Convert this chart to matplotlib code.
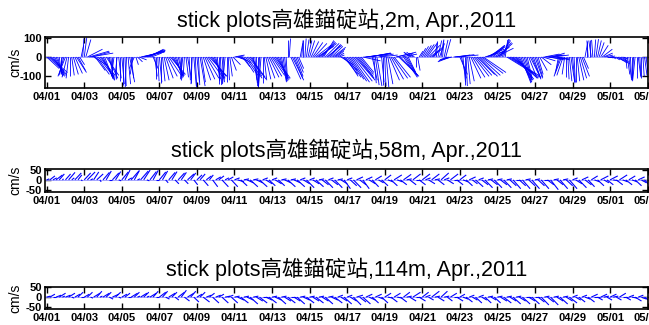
import numpy as np
import matplotlib.pyplot as plt
from matplotlib.collections import LineCollection

plt.rcParams['font.family'] = ['Liberation Sans', 'Noto Sans CJK TC']

tick_days = list(range(0, 33, 2))
tick_labels = ['04/01', '04/03', '04/05', '04/07', '04/09', '04/11', '04/13',
               '04/15', '04/17', '04/19', '04/21', '04/23', '04/25', '04/27',
               '04/29', '05/01', '05/03']

# 2m (cm/s), every 2 hours from 04/01 00:00, one row per day
u_2m = [50, 60, 70, 60, 50, 40, 30, 20, 10, 0, -10, -20,
        -30, -20, -10, 0, 10, 20, 30, 40, 30, 20, 10, 5,
        10, 20, 60, 80, 90, 70, 50, 40, 50, 60, 60, 50,
        40, 30, 50, 40, 20, 10, 0, -10, 0, -10, 10, 0,
        10, 0, 5, -5, 10, 20, 10, -10, -20, 10, 20, 30,
        95, 90, 85, 80, 70, 60, 50, 40, 20, 10, 0, 5,
        10, 0, 10, 20, 30, 40, 50, 60, 50, 40, 30, 20,
        20, 10, 0, -10, -5, 10, 15, 5, 0, -5, 10, 5,
        10, 5, 20, 15, 30, 40, 50, 60, 70, 60, 50, 40,
        20, 10, 0, 5, 10, -5, -10, 0, 5, 10, 20, 30,
        40, 30, 20, 30, 40, 30, 40, 50, 60, 70, 60, 40,
        15, 10, 5, 0, -5, -10, 0, 10, 20, 30, 40, 45,
        50, 55, 60, 50, 40, 30, 20, 15, 10, 5, 0, 5,
        40, 45, 35, 30, 25, 20, 10, 5, 0, 5, 10, 15,
        20, 30, 40, 50, 60, 65, 70, 60, 50, 40, 55, 60,
        50, 40, 45, 50, 40, 30, 25, 20, 50, 60, 55, 50,
        55, 60, 65, 70, 75, 80, 70, 60, 55, 50, 70, 85,
        90, 95, 85, 80, 20, 10, 15, 20, 60, 70, 10, 0,
        5, 10, 20, 40, 50, 60, 65, 70, 75, 80, 70, 60,
        55, 50, 40, 30, -20, -30, -25, -20, 0, 10, 15, 20,
        25, 30, 35, 40, 45, 50, 40, 20, 10, 5, 15, 20,
        10, 5, 15, 20, -30, -40, -50, -45, 50, 60, 70, 80,
        30, 20, 10, 0, 5, 10, 20, 40, 50, 60, 65, 70,
        75, 80, 85, 90, 80, 70, 65, 60, 55, 50, 60, 70,
        60, 50, 40, 30, 20, 10, 100, 110, 120, 110, 100, 90,
        70, 60, 50, 40, 35, 30, 25, 20, 30, 40, 35, 30,
        30, 25, 20, 30, 40, 50, 60, 65, 70, 60, 55, 50,
        60, 55, 50, -10, -20, -30, -25, -10, 0, 5, 10, 15,
        10, 5, 0, 10, 20, 25, 30, 20, 10, 0, -5, 0,
        -10, -5, 5, 10, 15, 20, 30, 40, 35, 30, 25, 20,
        20, 15, 10, 20, 30, 35, 40, 30, 20, 10, 5, 10,
        10, 5, 0, -5, -10, 0, 10, 5, 0, 5, 10, 10]
v_2m = [-60, -70, -80, -90, -95, -100, -95, -100, -90, -85, -90, -95,
        -100, -105, -110, -100, -95, -90, -85, -80, -70, -40, 60, 95,
        100, 90, 40, 30, 20, 25, -40, -70, -90, -100, -95, -105,
        -110, -100, -95, -110, -120, -115, -110, -100, -115, -120, -110, -125,
        -140, -145, -150, -155, -140, -130, -110, -90, -60, -40, -25, -15,
        25, 30, 30, 35, 38, 40, 35, 20, -60, -100, -115, -125,
        -130, -135, -125, -120, -110, -100, -95, -90, -95, -100, -95, -100,
        -105, -110, -120, -115, -100, -105, -110, -120, -135, -140, -150, -155,
        -130, -145, -150, -130, -120, -115, -110, -105, -100, -100, -110, -115,
        -115, -125, -140, -145, -130, -135, -140, -130, -120, -100, -70, -40,
        10, 5, -10, -20, -30, -50, -80, -95, -110, -115, -105, -100,
        -120, -135, -150, -160, -155, -150, -135, -120, -115, -110, -105, -100,
        -95, -100, -110, -115, -120, -125, -130, -125, -115, -110, 85, 95,
        -115, -120, -110, -100, -80, -60, 70, 85, 90, 95, 90, 85,
        85, 80, 75, 70, 60, 55, 70, 75, 80, 85, 70, 60,
        65, 60, 55, 50, 40, 30, 20, 10, -40, -70, -90, -100,
        -105, -115, -125, -130, -125, -120, -110, -100, -90, -80, -20, 10,
        15, 18, 20, 20, -120, -135, -145, -150, 15, 10, -130, -145,
        -150, -155, -140, -120, -115, -110, -105, 20, 25, -100, -95, 15,
        -105, -100, -90, -80, 20, 25, 25, 20, -50, -70, 30, 45,
        55, 60, 65, 70, 60, 50, 40, 30, 75, 80, 85, 70,
        85, 90, 88, 92, -15, -20, -25, -15, 5, 10, 12, 10,
        -90, -110, -130, -145, -150, -140, -125, -110, -105, -100, -95, -90,
        -100, -95, -85, -80, 30, 40, 50, 60, 60, 55, 50, 45,
        70, 75, 85, 90, 92, 88, -80, -90, -100, -105, -110, -110,
        -115, -120, -130, -135, -130, -120, -115, -110, -100, -105, -110, -115,
        -110, -105, -90, -70, -40, -20, 15, 10, -10, -15, 10, 20,
        10, -10, -15, -70, -85, -100, -95, -90, -105, -115, -125, -130,
        -135, -130, -128, -125, -120, -110, -100, -60, 70, 80, 85, 90,
        85, 88, 90, 92, 85, 75, 60, 40, 20, 10, 0, -5,
        5, 0, -10, -15, -20, -30, -35, -25, -10, -30, -60, -90,
        -110, -120, -115, -120, -125, -110, -100, -105, -110, -100, -95, -100]

# 58m, every 4 hours
u_58m = [10, 20, 15, 25, 20, 5,   20, 25, 10, 25, 15, 5,
         25, 30, 10, 20, 25, 5,   25, 20, 10, 25, 20, 10,
         25, 20, 15, 30, 20, 10,  30, 25, 10, 25, 20, 10,
         25, 20, 10, 25, 20, 15,  25, 20, 15, 25, 20, 15,
         20, 20, 20, 20, 15, 20,  20, 20, 25, 15, 20, 25,
         20, 25, 25, 20, 25, 30,  20, 25, 30, 20, 25, 25,
         20, 25, 25, 20, 25, 30,  20, 25, 30, 20, 25, 30,
         20, 25, 30, 20, 25, 30,  20, 25, 30, 20, 25, 25,
         20, 25, 30, 25, 25, 25,  25, 25, 25, 25, 20, 25,
         25, 20, 25, 30, 20, 25,  30, 20, 25, 30, 20, 25,
         30, 20, 25, 30, 20, 25,  30, 20, 25, 30, 20, 25,
         25, 20, 25, 25, 20, 30,  20, 25, 30, 20, 25, 30,
         20, 25, 30, 20, 25, 30,  20, 25, 30, 20, 25, 30,
         20, 25, 30, 20, 25, 30,  20, 25, 30, 20, 25, 30,
         20, 25, 30, 25, 25, 25,  25, 20, 25, 30, 20, 25,
         30, 20, 25, 30, 20, 25,  25, 20, 25, 25, 20, 25]
v_58m = [5, 20, 10, 25, 30, 5,       30, 38, 10, 35, 25, -5,
         35, 40, 5, 40, 30, -10,     38, 45, 0, 35, 42, -5,
         40, 50, 10, 45, 48, 5,      45, 50, -5, 42, 48, 0,
         40, 45, -15, 38, 42, -20,   35, 38, -20, 30, 35, -25,
         25, 30, -30, 20, 25, -35,   15, 20, -35, 10, 15, -35,
         10, -10, -30, 5, -15, -35,  5, -15, -35, 10, -20, -30,
         10, -20, -30, 5, -15, -35,  5, -15, -35, 10, -20, -40,
         10, -20, -35, 5, -25, -40,  10, -25, -40, 5, -20, -45,
         10, -30, -40, 15, -25, -45, 15, -20, -35, 20, -15, -30,
         25, -10, -30, 25, -10, -25, 28, 5, -25, 30, 0, -25,
         30, 10, -20, 30, 5, -25,    35, 10, -20, 30, 0, -25,
         25, -10, -30, 15, -20, -35, 10, -25, -40, 5, -25, -40,
         5, -25, -40, 5, -30, -45,   0, -30, -45, 5, -30, -45,
         5, -30, -45, 0, -25, -50,   5, -25, -45, 5, -30, -45,
         10, -20, -40, 15, -25, -35, 20, -10, -30, 20, -15, -25,
         20, -5, -25, 25, -10, -25,  20, -10, -30, 15, -15, -35]

# 114m, every 4 hours
u_114m = [15, 20, 10, 20, 25, 10,  20, 25, 10, 20, 20, 10,
          20, 20, 10, 25, 20, 10,  25, 20, 15, 25, 20, 10,
          20, 20, 10, 25, 20, 10,  25, 20, 10, 25, 20, 10,
          25, 20, 15, 25, 20, 15,  25, 20, 20, 25, 20, 20,
          20, 20, 25, 20, 20, 25,  20, 20, 25, 20, 20, 25,
          20, 25, 30, 20, 25, 30,  20, 25, 30, 20, 25, 30,
          20, 25, 30, 20, 25, 30,  20, 25, 30, 20, 25, 30,
          20, 25, 30, 20, 25, 30,  20, 25, 30, 20, 25, 30,
          20, 25, 30, 25, 25, 30,  25, 25, 25, 25, 20, 25,
          25, 20, 25, 25, 20, 25,  25, 20, 25, 30, 20, 25,
          25, 20, 20, 30, 20, 25,  25, 20, 20, 25, 20, 25,
          20, 20, 25, 20, 20, 25,  20, 20, 25, 20, 20, 25,
          20, 25, 30, 20, 25, 30,  20, 25, 30, 20, 25, 30,
          20, 25, 30, 20, 25, 30,  20, 25, 30, 20, 25, 30,
          20, 20, 25, 20, 20, 25,  25, 20, 20, 25, 20, 20,
          25, 20, 20, 25, 20, 20,  20, 20, 25, 20, 20, 25]
v_114m = [5, 15, 0, 10, 20, 5,      10, 20, -5, 15, 25, 0,
          15, 25, -5, 20, 30, 5,    20, 25, -10, 15, 25, -5,
          15, 20, 0, 20, 25, 5,     20, 25, 5, 20, 30, 0,
          25, 30, -10, 20, 25, -15, 25, 35, -20, 20, 30, -25,
          15, 25, -25, 10, 20, -30, 10, 15, -30, 5, 10, -30,
          5, -15, -30, 5, -15, -35, 5, -20, -30, 0, -15, -30,
          5, -15, -35, 5, -20, -30, 0, -20, -35, 5, -15, -30,
          5, -20, -30, 5, -20, -35, 5, -15, -30, 10, -20, -35,
          10, -20, -40, 10, -25, -35, 15, -15, -30, 15, -10, -30,
          20, -5, -25, 20, -5, -25,  25, 5, -20, 25, 0, -20,
          25, 10, -15, 30, 5, -20,   30, 5, -20, 20, 0, -20,
          15, -10, -25, 10, -15, -30, 10, -15, -30, 5, -15, -30,
          5, -20, -30, 5, -20, -35,  5, -20, -35, 0, -20, -35,
          0, -25, -40, 5, -25, -40,  5, -20, -35, 5, -20, -30,
          10, -15, -25, 10, -10, -25, 15, 0, -15, 15, 5, -15,
          15, 5, -15, 20, 0, -15,    10, -5, -20, 10, -10, -25]

titles = ['stick plots高雄錨碇站,2m, Apr.,2011',
          'stick plots高雄錨碇站,58m, Apr.,2011',
          'stick plots高雄錨碇站,114m, Apr.,2011']

W, H = 649, 325
fig = plt.figure(figsize=(W / 100, H / 100), dpi=100)

# axes boxes in pixels: left, top, right, bottom
boxes = [(45, 37, 648, 88), (45, 169, 648, 191.7), (45, 286.7, 648, 309.3)]
ylims = [(-160, 103), (-60, 55), (-62, 53)]
yticks = [[-100, 0, 100], [-50, 0, 50], [-50, 0, 50]]
pads = [7, 9, 8]
per_day = [12, 6, 6]
widths = [0.6, 0.8, 0.8]
stick_scale = 1.3   # horizontal stretch of the sticks
xlim = (-0.09, 32.02)
series = [(u_2m, v_2m), (u_58m, v_58m), (u_114m, v_114m)]

for i in range(3):
    l, t, r, b = boxes[i]
    ax = fig.add_axes([l / W, 1 - b / H, (r - l) / W, (b - t) / H])
    u, v = series[i]
    ylo, yhi = ylims[i]
    ax.set_xlim(xlim)
    ax.set_ylim(ylo, yhi)

    px_per_day = (r - l) / (xlim[1] - xlim[0])
    px_per_cms = (b - t) / (yhi - ylo)
    sx = stick_scale * px_per_cms / px_per_day

    tt = np.arange(len(u)) / per_day[i]
    segs = [[(tt[k], 0), (tt[k] + u[k] * sx, v[k])] for k in range(len(u))]
    ax.axhline(0, color='#9999ff', lw=0.6)
    ax.add_collection(LineCollection(segs, colors='blue', linewidths=widths[i]))

    ax.set_xticks(tick_days)
    ax.set_xticklabels(tick_labels, fontsize=8, fontweight='bold')
    ax.set_yticks(yticks[i])
    ax.set_yticklabels([str(y) for y in yticks[i]], fontsize=8, fontweight='bold')
    ax.tick_params(direction='in', top=True, right=True, length=4, width=1)
    ax.tick_params(axis='x', pad=3)
    ax.tick_params(axis='y', pad=2)
    for s in ax.spines.values():
        s.set_linewidth(1.2)
    ax.set_ylabel('cm/s', fontsize=10)
    ax.yaxis.set_label_coords((22 - l) / (r - l), 0.5)
    ax.set_title(titles[i], fontsize=15.5, pad=pads[i])

fig.savefig('out.png', dpi=100)
